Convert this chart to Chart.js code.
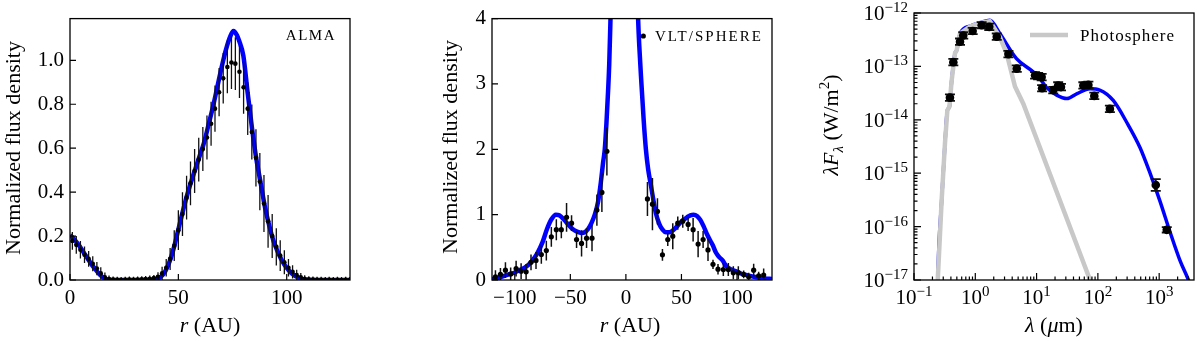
<!DOCTYPE html>
<html>
<head>
    <title>Disk profiles and SED</title>
    <script src="https://cdn.jsdelivr.net/npm/chart.js"></script>
    <style>
        body { margin: 0; background: #fff; font-family: "Liberation Serif", serif; }
        canvas { position: absolute; top: 0; }
        .warm { position: absolute; left: -1000px; top: -1000px; }
    </style>
</head>
<body>
    <div class="warm">Ab <i>Ab</i></div>
    <canvas id="alma" width="390" height="341" style="left:0px"></canvas>
    <canvas id="sphere" width="390" height="341" style="left:400px"></canvas>
    <canvas id="sed" width="410" height="341" style="left:790px"></canvas>

    <script>
        // ALMA radial profile (r in AU, normalized flux)
        const almaR = [1.1, 2.9, 4.8, 6.7, 8.6, 10.5, 12.4, 14.2, 16.1, 18.0,
            19.9, 21.8, 23.6, 25.5, 27.4, 29.3, 31.2, 33.1, 34.9, 36.8, 38.7,
            40.6, 42.5, 44.4, 46.2, 48.1, 50.0, 51.9, 53.8, 55.6, 57.5,
            59.4, 61.3, 63.2, 65.1, 66.9, 68.8, 70.7, 72.6, 74.5, 76.3,
            78.2, 80.1, 82.0, 83.9, 85.8, 87.6, 89.5, 91.4, 93.3, 95.2,
            97.0, 98.9, 100.8, 102.7, 104.6, 106.5, 108.3, 110.2, 112.1, 114.0,
            115.9, 117.8, 119.6, 121.5, 123.4, 125.3, 127.2, 129.0];
        const almaFlux = [0.178, 0.160, 0.138, 0.115, 0.096, 0.074, 0.052, 0.030, 0.012, 0.004,
            0.002, 0.001, 0.000, 0.001, 0.002, 0.001, 0.002, 0.003, 0.004, 0.006, 0.009,
            0.015, 0.030, 0.056, 0.096, 0.156, 0.227, 0.300, 0.375, 0.440, 0.496,
            0.548, 0.596, 0.649, 0.711, 0.780, 0.855, 0.918, 0.970, 0.990, 0.985,
            0.948, 0.877, 0.780, 0.674, 0.556, 0.448, 0.348, 0.267, 0.200, 0.151,
            0.111, 0.081, 0.056, 0.037, 0.022, 0.012, 0.006, 0.003, 0.002, 0.001,
            0.001, 0.000, 0.001, 0.000, 0.001, 0.000, 0.001, 0.000];
        const almaErr = [0.040, 0.040, 0.040, 0.038, 0.036, 0.034, 0.030, 0.028, 0.022, 0.016,
            0.014, 0.014, 0.014, 0.014, 0.014, 0.014, 0.014, 0.014, 0.014, 0.014, 0.014,
            0.020, 0.030, 0.040, 0.050, 0.070, 0.090, 0.100, 0.100, 0.100, 0.100,
            0.100, 0.100, 0.100, 0.100, 0.105, 0.110, 0.115, 0.120, 0.120, 0.120,
            0.120, 0.120, 0.120, 0.125, 0.130, 0.130, 0.130, 0.120, 0.100, 0.085,
            0.070, 0.055, 0.040, 0.030, 0.025, 0.020, 0.016, 0.014, 0.014, 0.014,
            0.014, 0.014, 0.014, 0.014, 0.014, 0.014, 0.014, 0.014];
        const almaModelR = [0, 2, 4, 6, 8, 10, 12, 14, 16, 18, 20, 25, 30, 35, 38,
            40, 42, 44, 46, 48, 50, 52, 54, 56, 58, 60, 62, 64, 66, 68, 70, 72, 74, 75.4, 77,
            78, 80, 82, 84, 86, 88, 90, 92, 94, 96, 98, 100, 102, 104, 106, 108, 110, 120, 130];
        const almaModel = [0.205, 0.185, 0.16, 0.13, 0.1, 0.07, 0.045, 0.022, 0.007, 0.001, 0, 0, 0, 0, 0.001,
            0.004, 0.015, 0.04, 0.085, 0.15, 0.23, 0.31, 0.385, 0.45, 0.51, 0.57, 0.63, 0.71, 0.79, 0.88, 0.97, 1.05, 1.11, 1.133, 1.115,
            1.09, 1.02, 0.85, 0.69, 0.55, 0.44, 0.33, 0.245, 0.175, 0.125, 0.085, 0.055, 0.033, 0.018, 0.008, 0.002, 0, 0, 0];
        const almaXTicks = [0, 50, 100];
        const almaYTicks = [0, 0.2, 0.4, 0.6, 0.8, 1.0];

        // VLT/SPHERE cut along the disk
        const sphereR = [-117.4, -112.9, -108.4, -103.7, -98.8, -94.3, -89.8, -85.4, -80.9, -76.1,
            -71.6, -67.1, -62.6, -58.1, -53.4, -48.9, -44.4, -39.9, -35.4, -30.5,
            -26.1, -21.6, -17.1,
            19.4, 23.9, 28.4, 32.9, 37.7, 42.2, 46.7, 51.2, 56.0, 60.5,
            65.0, 69.5, 73.9, 78.4, 82.9, 87.7, 92.2, 96.7, 101.2, 106.0,
            110.5, 115.0, 119.5, 124.0];
        const sphereFlux = [0.05, 0.085, 0.15, 0.09, 0.175, 0.135, 0.125, 0.27, 0.30, 0.39,
            0.45, 0.66, 0.77, 0.77, 0.96, 0.87, 0.62, 0.56, 0.64, 0.64,
            1.07, 1.34, 1.97,
            1.24, 1.16, 1.05, 0.385, 0.62, 0.67, 0.87, 0.90, 0.85, 0.77,
            0.55, 0.62, 0.46, 0.24, 0.165, 0.16, 0.16, 0.11, 0.11, 0.085,
            0.05, 0.15, 0.065, 0.075];
        const sphereErr = [0.10, 0.10, 0.12, 0.10, 0.12, 0.12, 0.12, 0.12, 0.13, 0.14,
            0.15, 0.15, 0.16, 0.13, 0.22, 0.12, 0.13, 0.20, 0.15, 0.20,
            0.24, 0.30, 0.37,
            0.26, 0.40, 0.20, 0.09, 0.10, 0.20, 0.10, 0.10, 0.10, 0.18,
            0.20, 0.13, 0.17, 0.07, 0.08, 0.10, 0.10, 0.10, 0.10, 0.06,
            0.06, 0.10, 0.06, 0.10];
        const sphereModelR = [-120.5, -115, -110, -105, -100, -95, -90, -85, -80, -75,
            -71, -67, -63, -60, -56, -52, -48, -44, -40, -37,
            -34, -31, -28, -25, -22.5, -20.5, -19, -17.5, -16, -15,
            -14, -13, -10, -5, 0, 5, 9, 11, 12, 14,
            16, 18, 20, 22.5, 25, 27, 30, 33, 36, 39,
            43, 47, 51, 55, 58, 61, 64, 67, 70, 73,
            76, 78, 81, 84, 87, 90, 95, 101, 105, 110,
            115, 120, 125, 131.5];
        const sphereModel = [0.015, 0.035, 0.06, 0.09, 0.115, 0.155, 0.2, 0.28, 0.4, 0.58,
            0.78, 0.93, 1.0, 0.99, 0.93, 0.85, 0.78, 0.74, 0.72, 0.73,
            0.78, 0.87, 1.0, 1.2, 1.5, 1.8, 2.0, 2.4, 2.9, 3.3,
            3.9, 4.6, 6.5, 8, 8.5, 7, 5.2, 4.0, 3.6, 3.0,
            2.45, 2.0, 1.7, 1.45, 1.2, 1.02, 0.86, 0.77, 0.73, 0.73,
            0.77, 0.84, 0.91, 0.96, 0.99, 1.0, 0.98, 0.92, 0.82, 0.7,
            0.6, 0.54, 0.42, 0.35, 0.3, 0.22, 0.16, 0.12, 0.09, 0.07,
            0.05, 0.035, 0.025, 0.015];
        const sphereXTicks = [-100, -50, 0, 50, 100];
        const sphereYTicks = [0, 1, 2, 3, 4];

        // SED (wavelength in micron, lambda F_lambda in W/m2)
        const sedWave = [0.386, 0.438, 0.563, 0.636, 0.906, 1.27, 1.69, 2.24, 3.47, 4.75,
            9.45, 10.6, 12.1, 12.3, 18.7, 22.5, 25.0, 57.9, 70.0, 87.4, 157, 880, 1330];
        const sedFlux = [2.6e-14, 1.2e-13, 2.9e-13, 3.8e-13, 4.6e-13, 5.9e-13, 5.5e-13, 3.6e-13, 1.7e-13, 9.1e-14,
            6.8e-14, 6.6e-14, 6.3e-14, 3.9e-14, 3.6e-14, 4.4e-14, 4.1e-14, 4.4e-14, 4.5e-14, 2.8e-14, 1.6e-14, 6.0e-16, 8.7e-17];
        const sedErrDex = [0.06, 0.06, 0.06, 0.06, 0.06, 0.06, 0.06, 0.06, 0.06, 0.06,
            0.06, 0.06, 0.06, 0.06, 0.06, 0.06, 0.06, 0.06, 0.06, 0.06, 0.06, 0.11, 0.05];
        const sedModelWave = [0.236, 0.244, 0.283, 0.32, 0.35, 0.378, 0.412, 0.466, 0.497, 0.563,
            0.82, 1.19, 1.73, 2.53, 4.7, 8.8, 11.3, 14.6, 21.3, 31.3,
            45.8, 74.5, 107, 178, 295, 488, 710, 1030, 1500, 2190, 3000, 3700];
        const sedModel = [1e-18, 1e-17, 3.2e-16, 3.6e-15, 1.5e-14, 1.75e-14, 5.5e-14, 1.75e-13, 2.0e-13, 4.1e-13,
            5.7e-13, 6.6e-13, 7.3e-13, 4.1e-13, 1.4e-13, 7.9e-14, 5.9e-14, 4.0e-14, 2.9e-14, 2.5e-14,
            3.1e-14, 3.8e-14, 3.6e-14, 2.3e-14, 9e-15, 3e-15, 1e-15, 3e-16, 8e-17, 2.3e-17, 1e-17, 5e-18];
        const photWave = [0.232, 0.244, 0.283, 0.32, 0.35, 0.378, 0.412, 0.466, 0.497, 0.563,
            0.82, 1.19, 1.73, 2.53, 3.25, 4.44, 6.07, 74.5, 90];
        const phot = [1e-18, 1e-17, 3.2e-16, 3.6e-15, 1.5e-14, 1.75e-14, 5.5e-14, 1.75e-13, 2.0e-13, 4.1e-13,
            5.6e-13, 6.5e-13, 7.0e-13, 3.5e-13, 1.74e-13, 4.2e-14, 2.0e-14, 1e-17, 5.7e-18];
        const sedXExp = [-1, 0, 1, 2, 3];
        const sedYExp = [-17, -16, -15, -14, -13, -12];

        const SERIF = '"Liberation Serif", serif';
        const tickFont = '21px ' + SERIF;
        const supFont = '15px ' + SERIF;
        const titleFont = '22px ' + SERIF;
        const titleIt = 'italic 22px ' + SERIF;
        const BLUE = '#0000ff';
        const MINUS = '\u2212';

        const pts = (xs, ys) => xs.map((x, i) => ({ x: x, y: ys[i] }));

        // draw a row of text pieces (mixed fonts, sub/superscripts)
        function drawParts(ctx, parts, x, y, align, rot) {
            ctx.save();
            ctx.translate(x, y);
            if (rot) ctx.rotate(rot);
            ctx.fillStyle = '#000';
            ctx.textBaseline = 'alphabetic';
            ctx.textAlign = 'left';
            const widths = parts.map(p => {
                ctx.font = p.font;
                ctx.letterSpacing = p.ls || '0px';
                return ctx.measureText(p.text).width;
            });
            const total = widths.reduce((a, b) => a + b, 0);
            let cx = align === 'center' ? -total / 2 : (align === 'right' ? -total : 0);
            parts.forEach((p, i) => {
                ctx.font = p.font;
                ctx.letterSpacing = p.ls || '0px';
                ctx.fillText(p.text, cx, p.dy || 0);
                cx += widths[i];
            });
            ctx.restore();
        }

        // vertical error bars, drawn right after the model curve (under the points)
        const errorBars = {
            id: 'errorBars',
            afterDatasetDraw(chart, args, opts) {
                if (args.index !== opts.after) return;
                const src = chart.data.datasets[opts.of];
                const sx = chart.scales.x, sy = chart.scales.y;
                const a = chart.chartArea;
                const ctx = chart.ctx;
                ctx.save();
                ctx.beginPath();
                ctx.rect(a.left, a.top, a.right - a.left, a.bottom - a.top);
                ctx.clip();
                ctx.strokeStyle = '#111';
                ctx.lineWidth = opts.width;
                ctx.beginPath();
                src.data.forEach((p, i) => {
                    const e = src.errs[i];
                    const lo = opts.log ? p.y / Math.pow(10, e) : p.y - e;
                    const hi = opts.log ? p.y * Math.pow(10, e) : p.y + e;
                    const px = sx.getPixelForValue(p.x);
                    const y0 = sy.getPixelForValue(lo), y1 = sy.getPixelForValue(hi);
                    ctx.moveTo(px, y0);
                    ctx.lineTo(px, y1);
                    if (opts.cap) {
                        ctx.moveTo(px - opts.cap, y0); ctx.lineTo(px + opts.cap, y0);
                        ctx.moveTo(px - opts.cap, y1); ctx.lineTo(px + opts.cap, y1);
                    }
                });
                ctx.stroke();
                ctx.restore();
            }
        };

        // box around the axes + inward tick marks
        const frameTicks = {
            id: 'frameTicks',
            afterDraw(chart) {
                const { ctx, chartArea: a, scales } = chart;
                ctx.save();
                ctx.strokeStyle = '#000';
                ctx.lineWidth = 1.2;
                ctx.beginPath();
                const mark = (k, v, len) => {
                    if (k === 'x') {
                        const p = scales.x.getPixelForValue(v);
                        ctx.moveTo(p, a.bottom); ctx.lineTo(p, a.bottom - len);
                    } else {
                        const p = scales.y.getPixelForValue(v);
                        ctx.moveTo(a.left, p); ctx.lineTo(a.left + len, p);
                    }
                };
                ['x', 'y'].forEach(k => {
                    const s = scales[k];
                    if (s.type === 'logarithmic') {
                        const e0 = Math.floor(Math.log10(s.min) + 1e-9), e1 = Math.ceil(Math.log10(s.max));
                        for (let e = e0; e <= e1; e++) {
                            for (let m = 1; m < 10; m++) {
                                const v = m * Math.pow(10, e);
                                if (v >= s.min * 0.999 && v <= s.max * 1.001) mark(k, v, m === 1 ? 7 : 3.5);
                            }
                        }
                    } else {
                        s.ticks.forEach(t => mark(k, t.value, 6));
                    }
                });
                ctx.stroke();
                ctx.lineWidth = 1.3;
                ctx.strokeRect(a.left, a.top, a.right - a.left, a.bottom - a.top);
                ctx.restore();
            }
        };

        function linAxis(min, max, tickVals, fmt, fit) {
            return {
                type: 'linear', min: min, max: max, bounds: 'data',
                ticks: { maxRotation: 0, autoSkip: false,
                    color: '#000', font: { family: 'Liberation Serif', size: 21 }, padding: 6,
                    callback: v => fmt(v) },
                afterBuildTicks: s => { s.ticks = tickVals.map(v => ({ value: v })); },
                grid: { display: false, drawTicks: false },
                border: { display: false },
                afterFit: fit
            };
        }
        const signed = v => v < 0 ? MINUS + Math.abs(v) : String(v);

        const baseOpts = {
            responsive: false,
            animation: false,
            events: []
        };

        function build() {
            // ---------- ALMA ----------
            new Chart(document.getElementById('alma'), {
                type: 'scatter',
                data: {
                    datasets: [
                        { data: pts(almaR, almaFlux), errs: almaErr, pointRadius: 2.3,
                          pointBackgroundColor: '#000', pointBorderWidth: 0 },
                        { data: pts(almaModelR, almaModel), showLine: true, borderColor: BLUE, borderWidth: 4.5,
                          pointRadius: 0, cubicInterpolationMode: 'monotone', fill: false }
                    ]
                },
                options: Object.assign({}, baseOpts, {
                    layout: { padding: { left: 0, top: 13, right: 40, bottom: 0 } },
                    plugins: {
                        legend: { display: false }, tooltip: { enabled: false },
                        errorBars: { of: 0, after: 1, width: 1.3 }
                    },
                    scales: {
                        x: linAxis(0, 129.2, almaXTicks, v => String(v), s => { s.height = 61; }),
                        y: linAxis(0, 1.19, almaYTicks, v => v.toFixed(1), s => { s.width = 70; })
                    }
                }),
                plugins: [errorBars, frameTicks, {
                    id: 'almaText',
                    afterDraw(chart) {
                        const ctx = chart.ctx;
                        drawParts(ctx, [{ text: 'r', font: titleIt }, { text: ' (AU)', font: titleFont }], 210, 332, 'center');
                        drawParts(ctx, [{ text: 'Normalized flux density', font: titleFont }], 20, 148, 'center', -Math.PI / 2);
                        drawParts(ctx, [{ text: 'ALMA', font: '15px ' + SERIF, ls: '1.5px' }], 336, 39.5, 'right');
                    }
                }]
            });

            // ---------- VLT/SPHERE ----------
            new Chart(document.getElementById('sphere'), {
                type: 'scatter',
                data: {
                    datasets: [
                        { data: pts(sphereR, sphereFlux), errs: sphereErr, pointRadius: 2.6,
                          pointBackgroundColor: '#000', pointBorderWidth: 0 },
                        { data: pts(sphereModelR, sphereModel), showLine: true, borderColor: BLUE, borderWidth: 4.5,
                          pointRadius: 0, cubicInterpolationMode: 'monotone', fill: false }
                    ]
                },
                options: Object.assign({}, baseOpts, {
                    layout: { padding: { left: 0, top: 13, right: 18, bottom: 0 } },
                    plugins: {
                        legend: { display: false }, tooltip: { enabled: false },
                        errorBars: { of: 0, after: 1, width: 1.5 }
                    },
                    scales: {
                        x: linAxis(-120.5, 131.5, sphereXTicks, signed, s => { s.height = 61; }),
                        y: linAxis(0, 4, sphereYTicks, v => String(v), s => { s.width = 92; })
                    }
                }),
                plugins: [errorBars, frameTicks, {
                    id: 'sphereText',
                    afterDraw(chart) {
                        const ctx = chart.ctx;
                        drawParts(ctx, [{ text: 'r', font: titleIt }, { text: ' (AU)', font: titleFont }], 230, 332, 'center');
                        drawParts(ctx, [{ text: 'Normalized flux density', font: titleFont }], 57, 147, 'center', -Math.PI / 2);
                        ctx.save();
                        ctx.fillStyle = '#000';
                        ctx.beginPath();
                        ctx.arc(243.3, 36, 2.6, 0, Math.PI * 2);
                        ctx.fill();
                        ctx.restore();
                        drawParts(ctx, [{ text: 'VLT/SPHERE', font: '15px ' + SERIF, ls: '2px' }], 255, 40.5, 'left');
                    }
                }]
            });

            // ---------- SED ----------
            new Chart(document.getElementById('sed'), {
                type: 'scatter',
                data: {
                    datasets: [
                        { data: pts(sedWave, sedFlux), errs: sedErrDex, pointRadius: 4.3,
                          pointBackgroundColor: '#000', pointBorderWidth: 0 },
                        { data: pts(photWave, phot), showLine: true, borderColor: '#c8c8c8', borderWidth: 4.5,
                          pointRadius: 0, tension: 0, fill: false },
                        { data: pts(sedModelWave, sedModel), showLine: true, borderColor: BLUE, borderWidth: 3.5,
                          pointRadius: 0, cubicInterpolationMode: 'monotone', fill: false }
                    ]
                },
                options: Object.assign({}, baseOpts, {
                    layout: { padding: { left: 0, top: 13, right: 6, bottom: 0 } },
                    plugins: {
                        legend: { display: false }, tooltip: { enabled: false },
                        errorBars: { of: 0, after: 1, width: 1.8, log: true, cap: 5 }
                    },
                    scales: {
                        x: { type: 'logarithmic', min: 0.1, max: 3700,
                             ticks: { display: false }, grid: { display: false, drawTicks: false },
                             border: { display: false }, afterFit: s => { s.height = 61; } },
                        y: { type: 'logarithmic', min: 1e-17, max: 1e-12,
                             ticks: { display: false }, grid: { display: false, drawTicks: false },
                             border: { display: false }, afterFit: s => { s.width = 124; } }
                    }
                }),
                plugins: [errorBars, frameTicks, {
                    id: 'sedText',
                    afterDraw(chart) {
                        const ctx = chart.ctx;
                        const sx = chart.scales.x, sy = chart.scales.y;
                        const exp = e => (e < 0 ? MINUS : '') + Math.abs(e);
                        sedYExp.forEach(e => {
                            const py = sy.getPixelForValue(Math.pow(10, e));
                            drawParts(ctx, [{ text: '10', font: tickFont }, { text: exp(e), font: supFont, dy: -8 }], 118, py + 7, 'right');
                        });
                        sedXExp.forEach(e => {
                            const px = sx.getPixelForValue(Math.pow(10, e));
                            drawParts(ctx, [{ text: '10', font: tickFont }, { text: exp(e), font: supFont, dy: -8 }], px, 303.5, 'center');
                        });
                        drawParts(ctx, [{ text: '\u03bb', font: titleIt }, { text: ' (', font: titleFont },
                            { text: '\u03bc', font: titleIt }, { text: 'm)', font: titleFont }], 264, 332, 'center');
                        drawParts(ctx, [{ text: '\u03bbF', font: titleIt }, { text: '\u03bb', font: 'italic 15px ' + SERIF, dy: 5 },
                            { text: ' (W/m', font: titleFont }, { text: '2', font: supFont, dy: -9 }, { text: ')', font: titleFont }],
                            48, 125, 'center', -Math.PI / 2);
                        // legend
                        ctx.save();
                        ctx.strokeStyle = '#c8c8c8';
                        ctx.lineWidth = 4.5;
                        ctx.beginPath();
                        ctx.moveTo(240, 35); ctx.lineTo(278, 35);
                        ctx.stroke();
                        ctx.restore();
                        drawParts(ctx, [{ text: 'Photosphere', font: '17px ' + SERIF, ls: '1px' }], 290, 40.5, 'left');
                    }
                }]
            });
        }

        Promise.all([
            document.fonts.load('21px "Liberation Serif"'),
            document.fonts.load('italic 21px "Liberation Serif"')
        ]).then(build, build);
    </script>
</body>
</html>
